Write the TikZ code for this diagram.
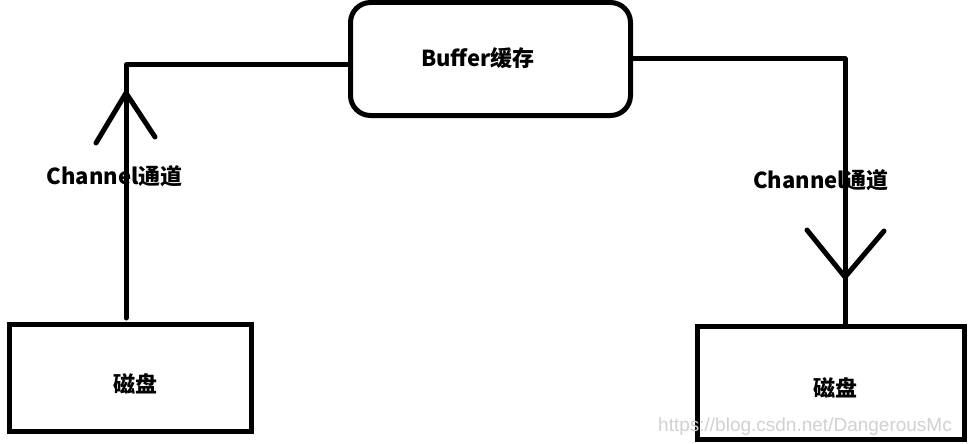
\documentclass[tikz,border=0pt]{standalone}
\usepackage{fontspec}
\setmainfont{Noto Sans CJK SC}
\newfontfamily\wmfont{Liberation Sans}
\begin{document}
\begin{tikzpicture}[x=1pt,y=-1pt,
  box/.style={draw, line width=5pt, inner sep=0pt},
  conn/.style={line width=5pt, line cap=round, line join=round},
  lbl/.style={font=\fontsize{22}{26}\selectfont\bfseries, inner sep=0pt},
  wm/.style={font=\wmfont\fontsize{19}{22}\selectfont, text=black!18, inner sep=0pt, anchor=west},
]
\useasboundingbox[fill=white] (0,0) rectangle (970,444);
% nodes
\node[box, rounded corners=20pt, minimum width=280pt, minimum height=113pt] (buffer) at (490.5,59) {};
\node[lbl] (buftext) at (478,58) {Buffer缓存};
\node[box, minimum width=242pt, minimum height=107pt] (disk1) at (130.5,378) {};
\node[lbl] (disk1text) at (135.5,384) {磁盘};
\node[box, minimum width=267pt, minimum height=113pt] (disk2) at (831,383) {};
\node[lbl] (disk2text) at (835,388) {磁盘};
% connector coordinates
\coordinate (l0) at (126,318);
\coordinate (la) at (126,93);
\coordinate (la1) at (96,143);
\coordinate (la2) at (155,137);
\coordinate (ra) at (845,277);
\coordinate (ra1) at (807,230);
\coordinate (ra2) at (884,231);
% connectors
\draw[conn] (l0) |- ([yshift=-6pt]buffer.west);
\draw[conn] (la1) -- (la) -- (la2);
\draw[conn, line cap=butt] (buffer.east) -| ([xshift=14pt]disk2.north);
\draw[conn] (ra1) -- (ra) -- (ra2);
% labels
\node[lbl] (ch1) at (114.5,176) {Channel通道};
\node[lbl] (ch2) at (821,180) {Channel通道};
% watermark
\node[wm] (wmark) at (658,427) {https://blog.csdn.net/DangerousMc};
\end{tikzpicture}
\end{document}
